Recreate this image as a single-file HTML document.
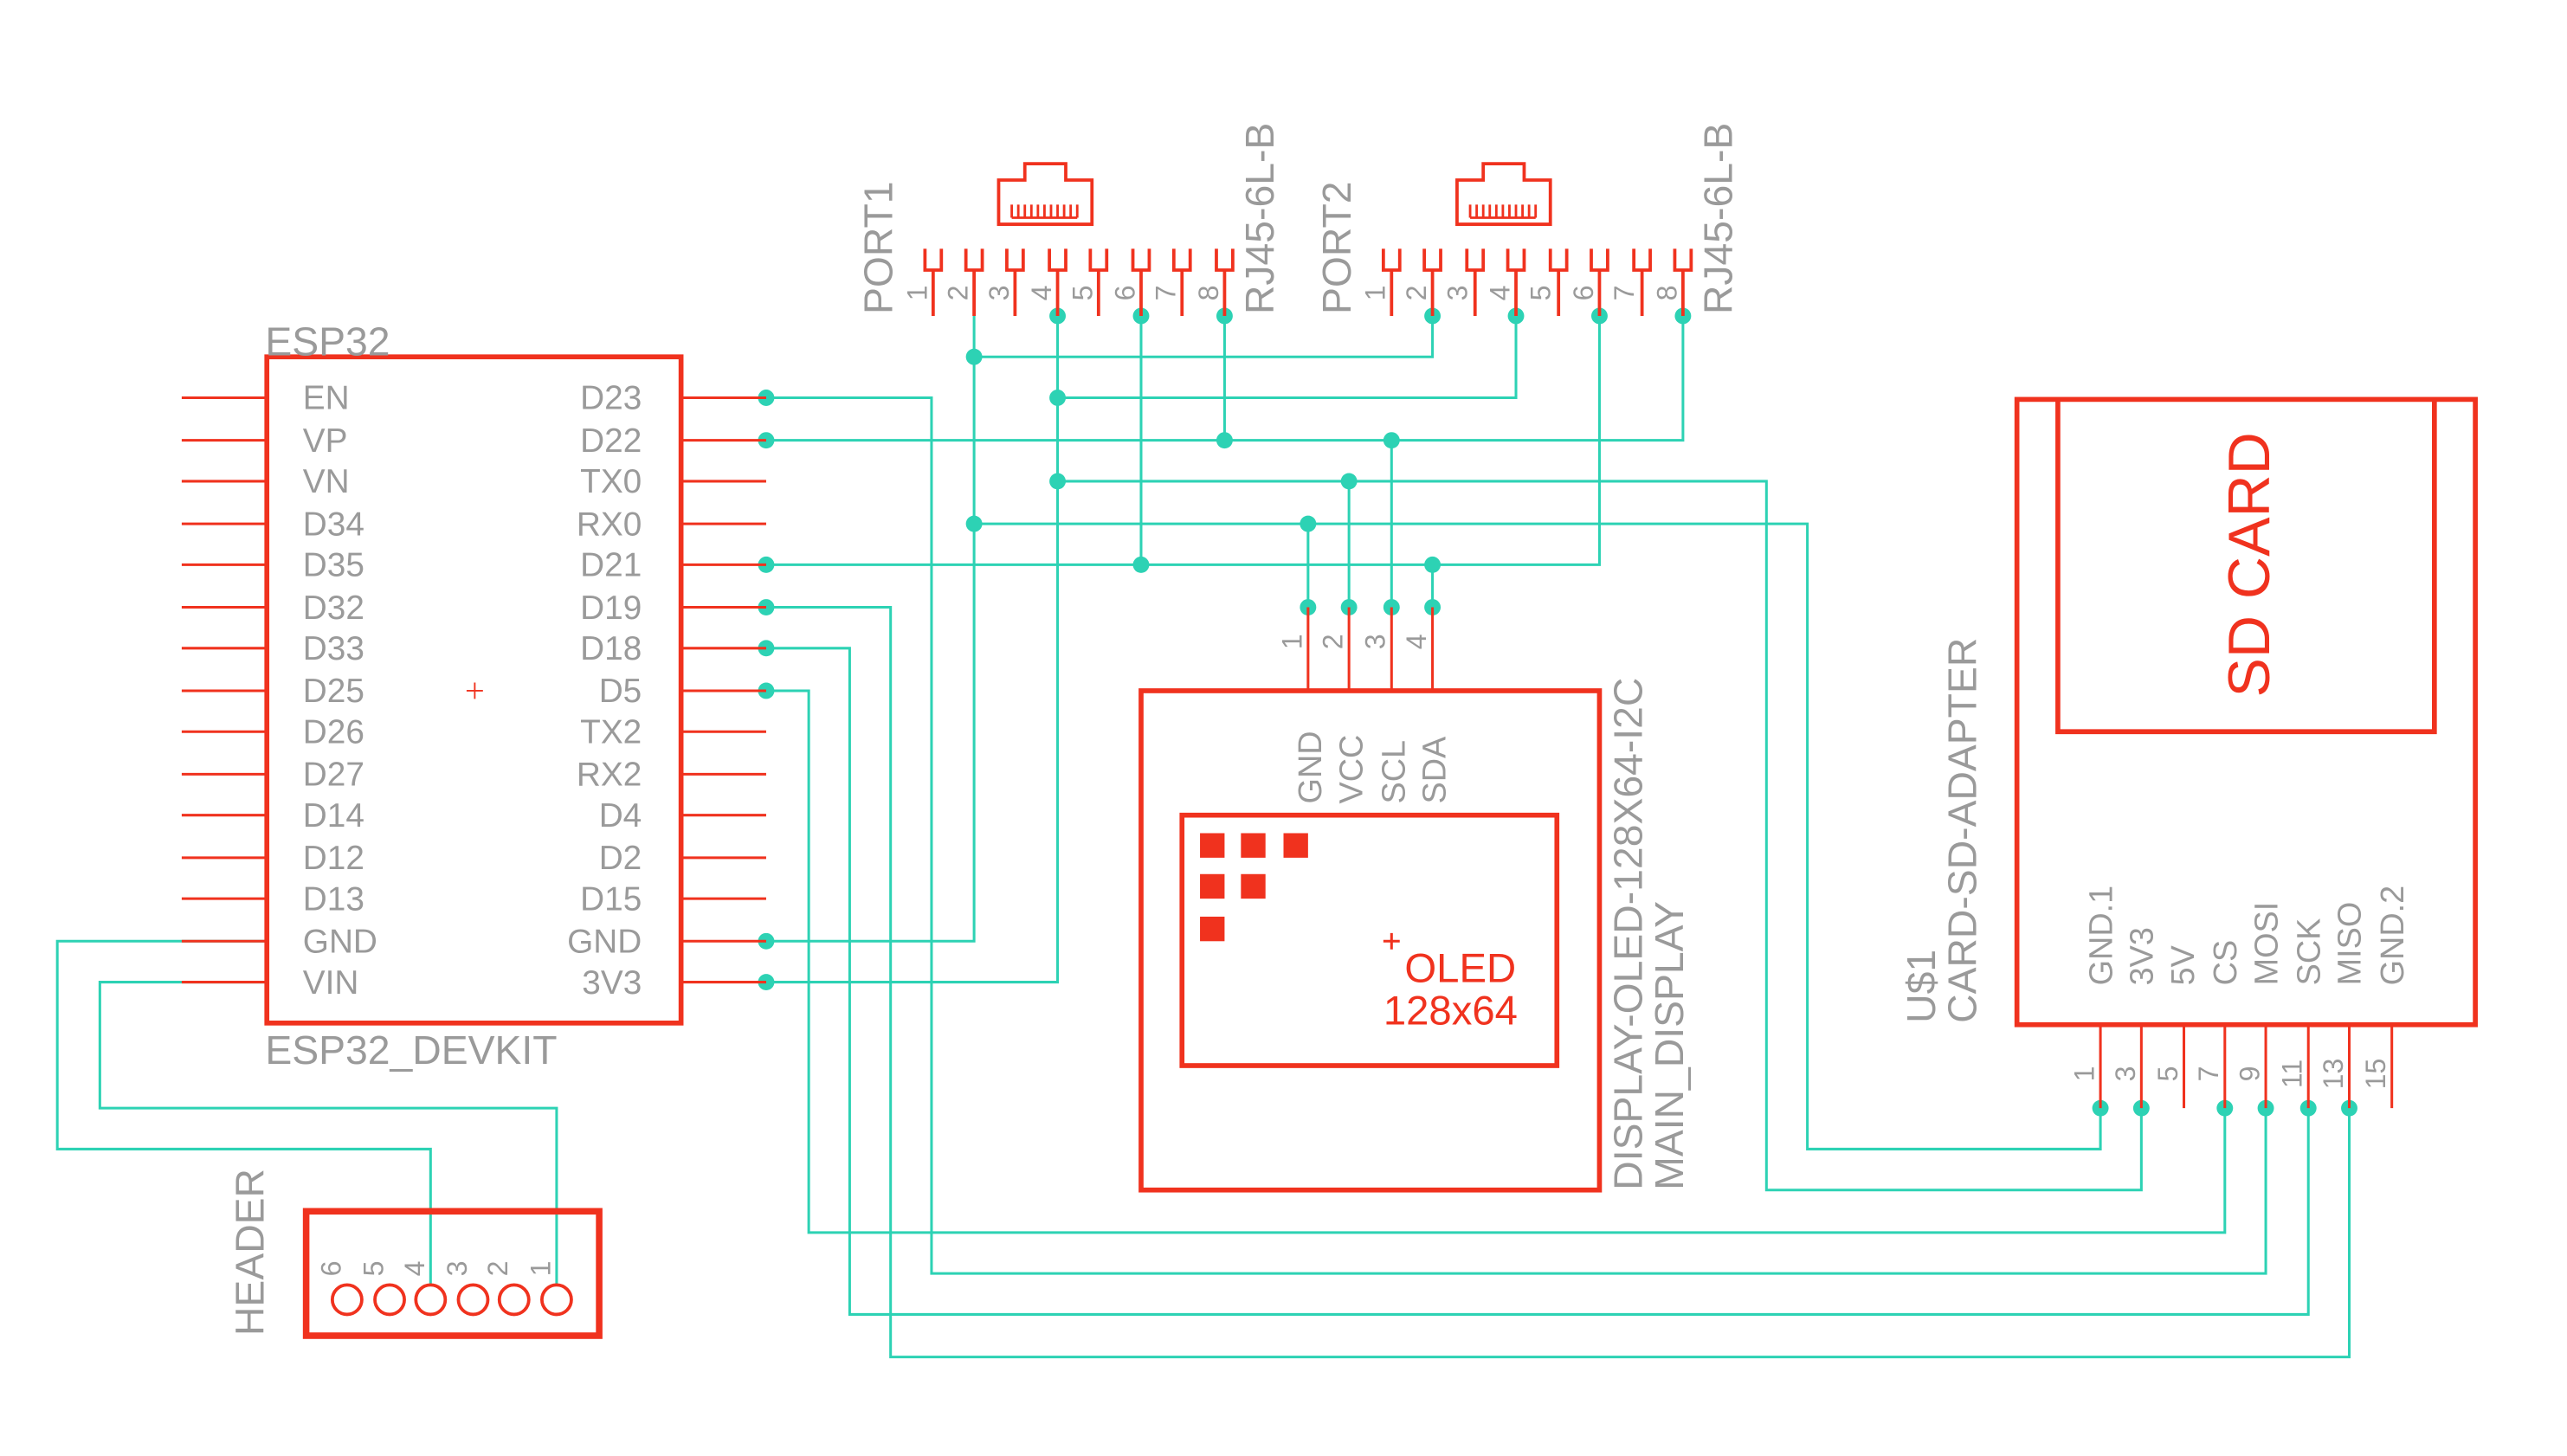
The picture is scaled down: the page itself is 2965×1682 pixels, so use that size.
<!DOCTYPE html>
<html><head><meta charset="utf-8"><style>
html,body{margin:0;padding:0;background:#fff}
svg{display:block}
text{font-family:"Liberation Sans",sans-serif;fill:#9a9a9a}
</style></head><body>
<svg width="2965" height="1682" viewBox="0 0 1568 889.5" preserveAspectRatio="none" xmlns="http://www.w3.org/2000/svg">
<defs>
<g id="rj">
<path d="M-36 110 H-20 V100 H5 V110 H21 V137 H-36 Z" fill="none" stroke="#f0321e" stroke-width="2"/>
<path d="M-28 133 V125 M-24 133 V125 M-20 133 V125 M-16 133 V125 M-12 133 V125 M-8 133 V125 M-4 133 V125 M0 133 V125 M4 133 V125 M8 133 V125 M12 133 V125 M-28 133 H12" stroke="#f0321e" stroke-width="1.5" fill="none"/>
</g>
<path id="pu" d="M-5 152 V165 H5 V152 M0 165 V193" fill="none" stroke="#f0321e" stroke-width="2"/>
</defs>

<g fill="none" stroke="#2dd2b4" stroke-width="1.6">
<path d="M468 243 H569 V778 H1384 V677"/>
<path d="M468 269 H1028 V193 M748 193 V269 M850 269 V371"/>
<path d="M468 345 H977 V193 M697 193 V345 M875 345 V371"/>
<path d="M468 371 H544 V829 H1435 V677"/>
<path d="M468 396 H519 V803 H1410 V677"/>
<path d="M468 422 H494 V753 H1359 V677"/>
<path d="M468 575 H595 V190 M595 218 H875 V193 M595 320 H1104 V702 H1283 V677 M799 320 V371"/>
<path d="M468 600 H646 V193 M646 243 H926 V193 M646 294 H1079 V727 H1308 V677 M824 294 V371"/>
<path d="M163 575 H35 V702 H263 V785"/>
<path d="M163 600 H61 V677 H340 V785"/>
</g>
<g fill="#2dd2b4">
<circle cx="468" cy="243" r="5"/><circle cx="468" cy="269" r="5"/><circle cx="468" cy="345" r="5"/><circle cx="468" cy="371" r="5"/><circle cx="468" cy="396" r="5"/><circle cx="468" cy="422" r="5"/><circle cx="468" cy="575" r="5"/><circle cx="468" cy="600" r="5"/>
<circle cx="595" cy="218" r="5"/><circle cx="595" cy="320" r="5"/><circle cx="646" cy="193" r="5"/><circle cx="697" cy="193" r="5"/><circle cx="748" cy="193" r="5"/>
<circle cx="646" cy="243" r="5"/><circle cx="646" cy="294" r="5"/><circle cx="748" cy="269" r="5"/><circle cx="697" cy="345" r="5"/>
<circle cx="875" cy="193" r="5"/><circle cx="926" cy="193" r="5"/><circle cx="977" cy="193" r="5"/><circle cx="1028" cy="193" r="5"/>
<circle cx="850" cy="269" r="5"/><circle cx="824" cy="294" r="5"/><circle cx="799" cy="320" r="5"/><circle cx="875" cy="345" r="5"/>
<circle cx="799" cy="371" r="5"/><circle cx="824" cy="371" r="5"/><circle cx="850" cy="371" r="5"/><circle cx="875" cy="371" r="5"/>
<circle cx="1283" cy="677" r="5"/><circle cx="1308" cy="677" r="5"/><circle cx="1359" cy="677" r="5"/><circle cx="1384" cy="677" r="5"/><circle cx="1410" cy="677" r="5"/><circle cx="1435" cy="677" r="5"/>
</g>

<g stroke="#f0321e" stroke-width="1.6">
<path d="M111 243H163M111 269H163M111 294H163M111 320H163M111 345H163M111 371H163M111 396H163M111 422H163M111 447H163M111 473H163M111 498H163M111 524H163M111 549H163M111 575H163M111 600H163"/>
<path d="M416 243H468M416 269H468M416 294H468M416 320H468M416 345H468M416 371H468M416 396H468M416 422H468M416 447H468M416 473H468M416 498H468M416 524H468M416 549H468M416 575H468M416 600H468"/>
<path d="M285 422H295M290 417V427" stroke-width="1"/>
</g>
<rect x="163" y="218" width="253" height="407" fill="none" stroke="#f0321e" stroke-width="3"/>
<g font-size="20.5">
<text x="185" y="250">EN</text><text x="185" y="276">VP</text><text x="185" y="301">VN</text><text x="185" y="327">D34</text><text x="185" y="352">D35</text><text x="185" y="378">D32</text><text x="185" y="403">D33</text><text x="185" y="429">D25</text><text x="185" y="454">D26</text><text x="185" y="480">D27</text><text x="185" y="505">D14</text><text x="185" y="531">D12</text><text x="185" y="556">D13</text><text x="185" y="582">GND</text><text x="185" y="607">VIN</text>
</g>
<g font-size="20.5" text-anchor="end">
<text x="392" y="250">D23</text><text x="392" y="276">D22</text><text x="392" y="301">TX0</text><text x="392" y="327">RX0</text><text x="392" y="352">D21</text><text x="392" y="378">D19</text><text x="392" y="403">D18</text><text x="392" y="429">D5</text><text x="392" y="454">TX2</text><text x="392" y="480">RX2</text><text x="392" y="505">D4</text><text x="392" y="531">D2</text><text x="392" y="556">D15</text><text x="392" y="582">GND</text><text x="392" y="607">3V3</text>
</g>
<text x="162" y="217" font-size="24.5">ESP32</text>
<text x="162" y="650" font-size="24.5">ESP32_DEVKIT</text>

<use href="#rj" x="646" y="0"/>
<use href="#pu" x="570"/><use href="#pu" x="595"/><use href="#pu" x="620"/><use href="#pu" x="646"/><use href="#pu" x="671"/><use href="#pu" x="697"/><use href="#pu" x="722"/><use href="#pu" x="748"/>
<g font-size="17" text-anchor="middle">
<text transform="translate(566 179) rotate(-90)">1</text><text transform="translate(591 179) rotate(-90)">2</text><text transform="translate(616 179) rotate(-90)">3</text><text transform="translate(642 179) rotate(-90)">4</text><text transform="translate(667 179) rotate(-90)">5</text><text transform="translate(693 179) rotate(-90)">6</text><text transform="translate(718 179) rotate(-90)">7</text><text transform="translate(744 179) rotate(-90)">8</text>
<text transform="translate(846 179) rotate(-90)">1</text><text transform="translate(871 179) rotate(-90)">2</text><text transform="translate(896 179) rotate(-90)">3</text><text transform="translate(922 179) rotate(-90)">4</text><text transform="translate(947 179) rotate(-90)">5</text><text transform="translate(973 179) rotate(-90)">6</text><text transform="translate(998 179) rotate(-90)">7</text><text transform="translate(1024 179) rotate(-90)">8</text>
</g>
<g font-size="24.5">
<text transform="translate(545 192) rotate(-90)">PORT1</text>
<text transform="translate(778 192) rotate(-90)">RJ45-6L-B</text>
<text transform="translate(825 192) rotate(-90)">PORT2</text>
<text transform="translate(1058 192) rotate(-90)">RJ45-6L-B</text>
</g>
<use href="#rj" x="926" y="0"/>
<use href="#pu" x="850"/><use href="#pu" x="875"/><use href="#pu" x="901"/><use href="#pu" x="926"/><use href="#pu" x="952"/><use href="#pu" x="977"/><use href="#pu" x="1003"/><use href="#pu" x="1028"/>

<g stroke="#f0321e" stroke-width="1.6"><path d="M799 371V422M824 371V422M850 371V422M875 371V422M845 575H855M850 570V580" /></g>
<rect x="697" y="422" width="280" height="305" fill="none" stroke="#f0321e" stroke-width="3"/>
<rect x="722" y="498" width="229" height="153" fill="none" stroke="#f0321e" stroke-width="3"/>
<g fill="#f0321e"><rect x="733" y="509" width="15" height="15"/><rect x="758" y="509" width="15" height="15"/><rect x="784" y="509" width="15" height="15"/><rect x="733" y="534" width="15" height="15"/><rect x="758" y="534" width="15" height="15"/><rect x="733" y="560" width="15" height="15"/></g>
<text x="858" y="600" font-size="25" style="fill:#f0321e">OLED</text>
<text x="845" y="626" font-size="25" style="fill:#f0321e">128x64</text>
<g font-size="17" text-anchor="middle">
<text transform="translate(795 392) rotate(-90)">1</text><text transform="translate(820 392) rotate(-90)">2</text><text transform="translate(846 392) rotate(-90)">3</text><text transform="translate(871 392) rotate(-90)">4</text>
</g>
<g font-size="20">
<text transform="translate(807 491) rotate(-90)">GND</text><text transform="translate(832 491) rotate(-90)">VCC</text><text transform="translate(858 491) rotate(-90)">SCL</text><text transform="translate(883 491) rotate(-90)">SDA</text>
<text transform="translate(1003 727) rotate(-90)" font-size="24.5">DISPLAY-OLED-128X64-I2C</text>
<text transform="translate(1028 727) rotate(-90)" font-size="24.5">MAIN_DISPLAY</text>
</g>

<rect x="1232" y="244" width="280" height="382" fill="none" stroke="#f0321e" stroke-width="3"/>
<path d="M1257 244V447H1487V244" fill="none" stroke="#f0321e" stroke-width="3"/>
<text transform="translate(1386 345) rotate(-90)" font-size="36" text-anchor="middle" style="fill:#f0321e">SD CARD</text>
<g stroke="#f0321e" stroke-width="1.6"><path d="M1283 626V677M1308 626V677M1334 626V677M1359 626V677M1384 626V677M1410 626V677M1435 626V677M1461 626V677M1379 447H1389"/></g>
<g font-size="20">
<text transform="translate(1290 602) rotate(-90)">GND.1</text><text transform="translate(1315 602) rotate(-90)">3V3</text><text transform="translate(1340 602) rotate(-90)">5V</text><text transform="translate(1366 602) rotate(-90)">CS</text><text transform="translate(1391 602) rotate(-90)">MOSI</text><text transform="translate(1417 602) rotate(-90)">SCK</text><text transform="translate(1442 602) rotate(-90)">MISO</text><text transform="translate(1468 602) rotate(-90)">GND.2</text>
<text transform="translate(1182 625) rotate(-90)" font-size="24.5">U$1</text>
<text transform="translate(1207 625) rotate(-90)" font-size="24.5">CARD-SD-ADAPTER</text>
</g>
<g font-size="17" text-anchor="middle">
<text transform="translate(1279 656) rotate(-90)">1</text><text transform="translate(1304 656) rotate(-90)">3</text><text transform="translate(1330 656) rotate(-90)">5</text><text transform="translate(1355 656) rotate(-90)">7</text><text transform="translate(1380 656) rotate(-90)">9</text><text transform="translate(1406 656) rotate(-90)">11</text><text transform="translate(1431 656) rotate(-90)">13</text><text transform="translate(1457 656) rotate(-90)">15</text>
</g>

<rect x="187" y="740" width="179" height="76" fill="none" stroke="#f0321e" stroke-width="4"/>
<g fill="#fff" stroke="#f0321e" stroke-width="2"><circle cx="212" cy="794" r="9"/><circle cx="238" cy="794" r="9"/><circle cx="263" cy="794" r="9"/><circle cx="289" cy="794" r="9"/><circle cx="314" cy="794" r="9"/><circle cx="340" cy="794" r="9"/></g>
<g font-size="17" text-anchor="middle">
<text transform="translate(208 775) rotate(-90)">6</text><text transform="translate(234 775) rotate(-90)">5</text><text transform="translate(259 775) rotate(-90)">4</text><text transform="translate(285 775) rotate(-90)">3</text><text transform="translate(310 775) rotate(-90)">2</text><text transform="translate(336 775) rotate(-90)">1</text>
</g>
<text transform="translate(161 816) rotate(-90)" font-size="24.5">HEADER</text>
</svg>
</body></html>
